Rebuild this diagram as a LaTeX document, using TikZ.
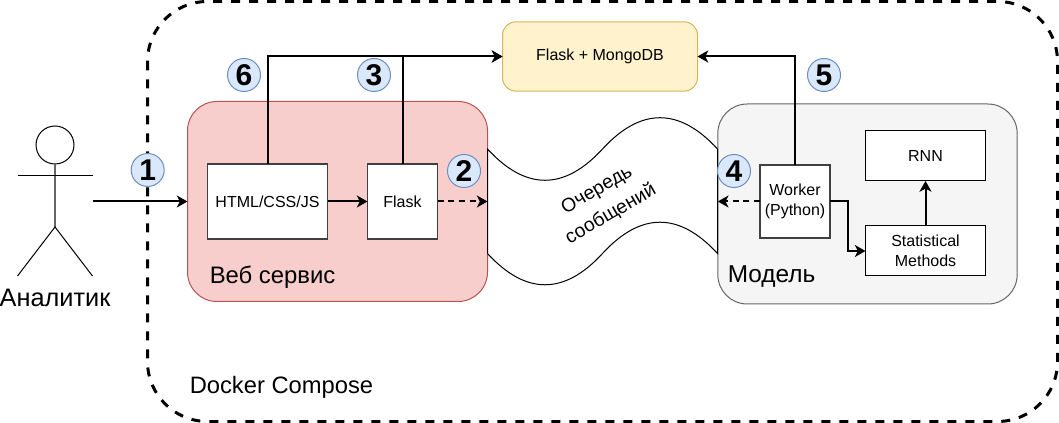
\documentclass[tikz,border=0pt]{standalone}
\usepackage{fontspec}
\setmainfont{Liberation Sans}
\usetikzlibrary{arrows.meta}
\definecolor{webfill}{HTML}{F8CECC}
\definecolor{webline}{HTML}{B85450}
\definecolor{dbfill}{HTML}{FFF2CC}
\definecolor{dbline}{HTML}{D6B656}
\definecolor{modelfill}{HTML}{F5F5F5}
\definecolor{modelline}{HTML}{666666}
\definecolor{markfill}{HTML}{DAE8FC}
\definecolor{markline}{HTML}{6C8EBF}
\tikzset{
  flow/.style={-{Stealth[length=8pt,width=9pt,inset=2.2pt]}, line width=1.5pt},
  dashflow/.style={flow, dash pattern=on 4.5pt off 3.5pt},
  group/.style={draw, line width=0.75pt, rounded corners=22pt, inner sep=0pt, outer sep=0pt},
  innerbox/.style={draw=black!75, fill=white, line width=1.2pt, inner sep=0pt, outer sep=0pt, font=\fontsize{12pt}{15pt}\selectfont, align=center},
  thinbox/.style={draw=black, fill=white, line width=0.75pt, inner sep=0pt, outer sep=0pt, font=\fontsize{12pt}{15pt}\selectfont, align=center},
  stepmark/.style={circle, draw=markline, fill=markfill, line width=0.75pt, minimum size=24.75pt, inner sep=0pt, font=\bfseries\fontsize{22.5pt}{22pt}\selectfont},
  biglabel/.style={anchor=west, inner sep=0pt}
}
\begin{document}
\begin{tikzpicture}[x=0.75pt, y=-0.75pt]
  \useasboundingbox (0,0) rectangle (1059,423);
  % Docker Compose frame
  \draw[black, line width=2.25pt, dash pattern=on 6.75pt off 6.75pt, rounded corners=45pt] (147.5,1.5) rectangle (1057.5,421.5);
  \node[biglabel, font=\fontsize{17.8pt}{22pt}\selectfont] (compose) at (189.5,387) {Docker Compose};
  % Groups
  \node[group, draw=webline, fill=webfill, minimum width=225pt, minimum height=150pt] (web) at (337.5,201.5) {};
  \node[group, draw=modelline, fill=modelfill, minimum width=224.5pt, minimum height=150pt] (model) at (867.5,204) {};
  \node[group, draw=dbline, fill=dbfill, rounded corners=10pt, minimum width=146.25pt, minimum height=52pt, font=\fontsize{12pt}{15pt}\selectfont] (mongo) at (600,56.5) {Flask + MongoDB};
  \node[biglabel, font=\fontsize{17.9pt}{22pt}\selectfont] (weblabel) at (209.5,277) {Веб сервис};
  \node[biglabel, font=\fontsize{18.3pt}{22pt}\selectfont] (modellabel) at (727.5,277) {Модель};
  % Message queue
  \draw[black, fill=white, line width=0.75pt] (487.5,149)
    .. controls (525.8,190.7) and (564.2,190.7) .. (602.5,149)
    .. controls (640.8,107.3) and (679.2,107.3) .. (717.5,149)
    -- (717.5,253.5)
    .. controls (679.2,211.8) and (640.8,211.8) .. (602.5,253.5)
    .. controls (564.2,295.2) and (525.8,295.2) .. (487.5,253.5) -- cycle;
  \node[rotate=30, align=center, inner sep=0pt, font=\fontsize{14.5pt}{21pt}\selectfont] (queue) at (604,202.5) {Очередь\\сообщений};
  % Boxes
  \node[innerbox, minimum width=90pt, minimum height=56.5pt] (html) at (267.5,201.5) {HTML/CSS/JS};
  \node[innerbox, minimum width=52.5pt, minimum height=56.5pt] (flask) at (402.5,201.5) {Flask};
  \node[innerbox, minimum width=52.5pt, minimum height=55pt] (worker) at (795,201.5) {Worker\\(Python)};
  \node[thinbox, minimum width=90pt, minimum height=37.5pt] (rnn) at (925.5,156) {RNN};
  \node[thinbox, minimum width=90pt, minimum height=37.5pt] (stat) at (925.5,251) {Statistical\\Methods};
  % Actor
  \node[circle, draw=black, line width=0.75pt, minimum size=28.5pt, inner sep=0pt, outer sep=0pt] (head) at (55,145) {};
  \coordinate (hip) at (55,227);
  \coordinate (armL) at (17.5,176);
  \coordinate (armR) at (92.5,176);
  \coordinate (footL) at (17.5,276);
  \coordinate (footR) at (92.5,276);
  \coordinate (hand) at (92.5,201.5);
  \draw[black!60, line width=1pt] (head.south) -- (hip);
  \draw[black, line width=0.75pt] (armL) -- (armR);
  \draw[black, line width=0.75pt] (footL) -- (hip) -- (footR);
  \node[inner sep=0pt, font=\fontsize{19pt}{22pt}\selectfont] (analyst) at (55,297.5) {Аналитик};
  % Connectors
  \coordinate (bend) at (848,226);
  \draw[flow] (hand) -- (web.west);
  \draw[flow] (html.east) -- (flask.west);
  \draw[dashflow] (flask.east) -- (web.east);
  \draw[flow] (html.north) |- (mongo.west);
  \draw[flow] (flask.north) |- (mongo.west);
  \draw[flow] (worker.north) |- (mongo.east);
  \draw[dashflow] (worker.west) -- (worker.west -| model.west);
  \draw[flow] (worker.east) -| (bend) |- (stat.west);
  \draw[flow] (stat.north) -- (rnn.south);
  % Step marks
  \node[stepmark] (one) at (147.7,170) {1};
  \node[stepmark] (two) at (464,171) {2};
  \node[stepmark] (three) at (374,75) {3};
  \node[stepmark] (four) at (734,171) {4};
  \node[stepmark] (five) at (824,75) {5};
  \node[stepmark] (six) at (244,75) {6};
\end{tikzpicture}
\end{document}
